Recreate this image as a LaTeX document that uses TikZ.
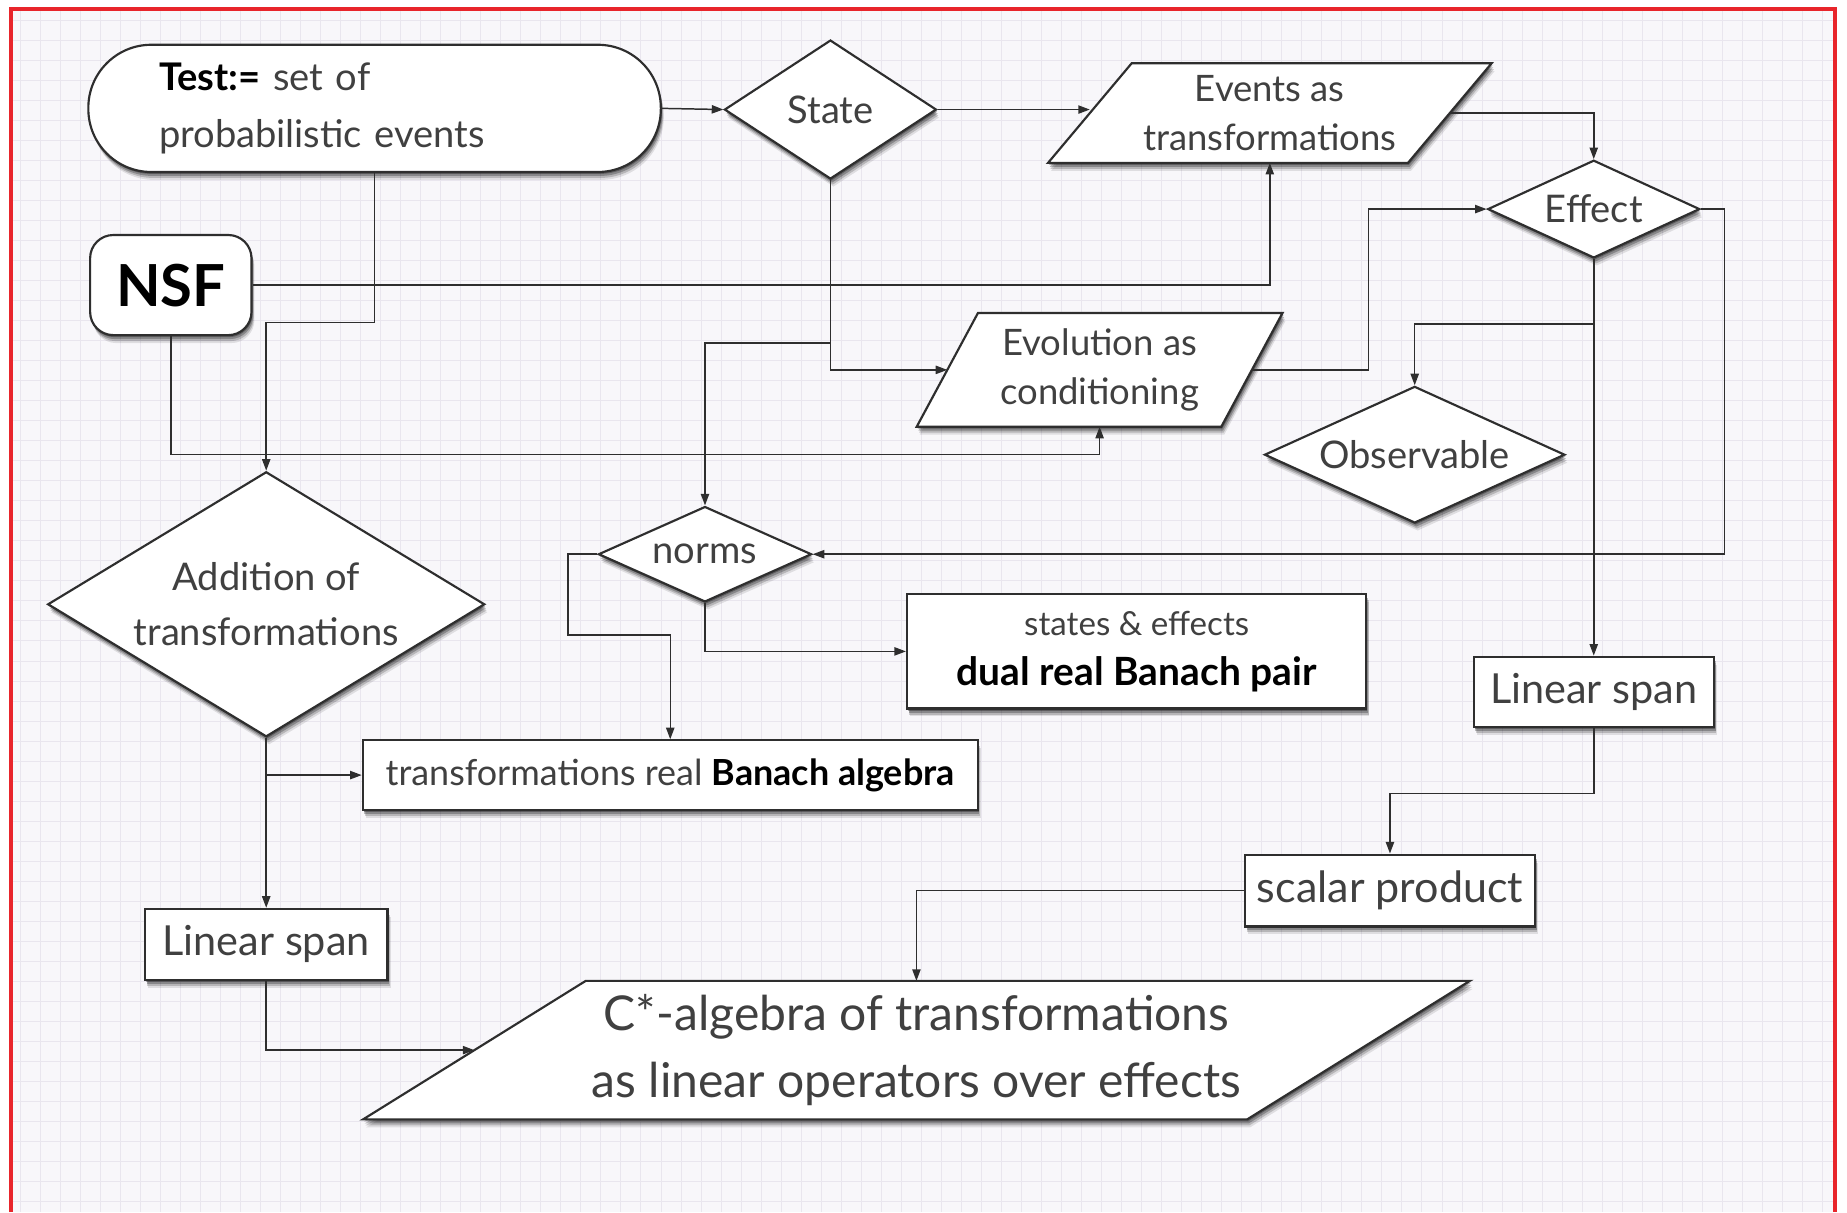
\documentclass[tikz,border=0pt]{standalone}
\usepackage{fontspec}
\setmainfont{Lato}
\usetikzlibrary{shapes.geometric,arrows.meta,shadows,calc}
\newlength\pxu
\setlength\pxu{0.25mm}
\newcommand\setfs[2]{\fontsize{#1}{#2}\selectfont}
\definecolor{bgc}{HTML}{F8F7FA}
\definecolor{gridc}{HTML}{E9E6EE}
\definecolor{framec}{HTML}{E8252B}
\definecolor{linec}{HTML}{2E2E2E}
\definecolor{txtc}{HTML}{404040}
\pgfdeclarelayer{bglayer}
\pgfdeclarelayer{shplayer}
\pgfsetlayers{bglayer,shplayer,main}
\tikzset{
  dshadow/.style={
    drop shadow={shadow xshift=0.6pt, shadow yshift=-1.2pt, opacity=0.3, fill=black},
    drop shadow={shadow xshift=1.0pt, shadow yshift=-2.4pt, opacity=0.25, fill=black},
    drop shadow={shadow xshift=1.4pt, shadow yshift=-3.6pt, opacity=0.18, fill=black},
    drop shadow={shadow xshift=1.8pt, shadow yshift=-4.8pt, opacity=0.1, fill=black}},
  nbox/.style={draw=linec, line width=1.3pt, fill=white, text=txtc, dshadow, inner sep=2pt, align=center},
  dia/.style={nbox, diamond, inner sep=0pt},
  ptext/.style={rectangle, inner sep=0pt, text=txtc, align=center},
  pgram/.style={draw=linec, line width=1.3pt, fill=white, dshadow, line join=miter},
  conn/.style={draw=linec, line width=0.9pt},
  arr/.style={conn, -{Triangle[length=7pt,width=5pt]}},
}
\begin{document}
\begin{tikzpicture}[x=0.25mm,y=-0.25mm]
\useasboundingbox (0,0) rectangle (1568,1029);
\begin{pgfonlayer}{bglayer}
  \fill[white] (0,0) rectangle (1568,1029);
  \fill[bgc] (9,8) rectangle (1558,1029);
  \draw[gridc, line width=0.4pt, step=4.25mm] (9,8) grid (1558,1029);
  \draw[framec, line width=2.4pt] (9,1029) -- (9,8) -- (1558,8) -- (1558,1029);
\end{pgfonlayer}

% nodes
\node[nbox, rectangle, rounded corners=38pt, minimum width=486\pxu, minimum height=108\pxu,
      text width=366\pxu, align=left, font=\setfs{23}{34}] (test) at (318,92)
      {\textbf{\color{black}Test:=} set of\\probabilistic events};
\node[dia, aspect=1.54, minimum width=180\pxu, minimum height=118\pxu, font=\setfs{23}{30}] (state) at (705,93) {State};
\node[ptext, minimum width=305\pxu, minimum height=84\pxu, font=\setfs{22}{30}] (events) at (1078,96) {Events as\\transformations};
\node[dia, aspect=2.2, minimum width=180\pxu, minimum height=83\pxu, font=\setfs{23}{30}] (effect) at (1353,177.5) {Effect};
\node[nbox, rectangle, rounded corners=14pt, minimum width=137\pxu, minimum height=85\pxu,
      font=\setfs{35}{40}\bfseries, text=black] (nsf) at (145,242) {NSF};
\node[ptext, minimum width=258\pxu, minimum height=96\pxu, font=\setfs{22}{30}] (evol) at (933.5,314) {Evolution as\\conditioning};
\node[dia, aspect=2.2, minimum width=255\pxu, minimum height=116\pxu, font=\setfs{23}{30}] (obs) at (1201,386) {Observable};
\node[dia, aspect=1.66, minimum width=371\pxu, minimum height=225\pxu, font=\setfs{23}{33}] (add) at (226,513) {Addition of\\transformations};
\node[dia, aspect=2.2, minimum width=181\pxu, minimum height=81\pxu, font=\setfs{23}{30}] (norms) at (598.5,470.5) {norms};
\node[nbox, rectangle, minimum width=390\pxu, minimum height=97\pxu, font=\setfs{23.5}{30}] (se) at (965,553)
      {{\setfs{20}{28}states \& effects}\\{\bfseries\color{black}dual real Banach pair}};
\node[nbox, rectangle, minimum width=204\pxu, minimum height=60\pxu, font=\setfs{25}{30}] (ls2) at (1353,587.5) {Linear span};
\node[nbox, rectangle, minimum width=522\pxu, minimum height=59\pxu, font=\setfs{21.7}{28}] (tba) at (569,658)
      {transformations real \textbf{\color{black}Banach algebra}};
\node[nbox, rectangle, minimum width=246\pxu, minimum height=61\pxu, font=\setfs{26}{30}] (sp) at (1180,756) {scalar product};
\node[nbox, rectangle, minimum width=206\pxu, minimum height=60\pxu, font=\setfs{25}{30}] (ls1) at (226,801.6) {Linear span};
\node[ptext, minimum width=750\pxu, minimum height=117\pxu, font=\setfs{29}{40}] (cstar) at (778,891.5)
      {C*-algebra of transformations\\as linear operators over effects};

% parallelogram outlines
\begin{pgfonlayer}{shplayer}
  \path[pgram] ([xshift=35.5\pxu]events.north west) -- ([xshift=35.5\pxu]events.north east)
     -- ([xshift=-35.5\pxu]events.south east) -- ([xshift=-35.5\pxu]events.south west) -- cycle;
  \path[pgram] ([xshift=26\pxu]evol.north west) -- ([xshift=26\pxu]evol.north east)
     -- ([xshift=-26\pxu]evol.south east) -- ([xshift=-26\pxu]evol.south west) -- cycle;
  \path[pgram] ([xshift=94.5\pxu]cstar.north west) -- ([xshift=94.5\pxu]cstar.north east)
     -- ([xshift=-94.5\pxu]cstar.south east) -- ([xshift=-94.5\pxu]cstar.south west) -- cycle;
\end{pgfonlayer}

% junctions
\coordinate (sj) at (705,291);
\coordinate (ej) at (1353,275);
\coordinate (aj) at (226,658);

% connectors
\draw[arr] (test.east) -- (state.west);
\draw[arr] (state.east) -- (state.east -| events.west);
\draw[arr] (events.east) -| (effect.north);
\draw[arr] (nsf.east) -| (events.south);
\draw[arr] (test.south) -- ++(0,127) -| (add.north);
\draw[arr] (nsf.south) -- ++(0,100.5) -| (evol.south);
\draw[arr] (state.south) |- (evol.west);
\draw[arr] (sj) -| (norms.north);
\draw[arr] (evol.east) -- ++(99,0) |- (effect.west);
\draw[arr] (effect.south) -- (ls2.north);
\draw[arr] (ej) -| (obs.north);
\draw[arr] (effect.east) -- ++(20,0) |- (norms.east);
\draw[arr] (norms.west) -- ++(-25,0) -- ++(0,68.5) -| (tba.north);
\draw[arr] (norms.south) |- (se.west);
\draw[arr] (add.south) -- (ls1.north);
\draw[arr] (aj) -- (tba.west);
\draw[arr] (ls1.south) |- (cstar.west);
\draw[arr] (ls2.south) -- ++(0,55) -| (sp.north);
\draw[arr] (sp.west) -| (cstar.north);
\end{tikzpicture}
\end{document}
